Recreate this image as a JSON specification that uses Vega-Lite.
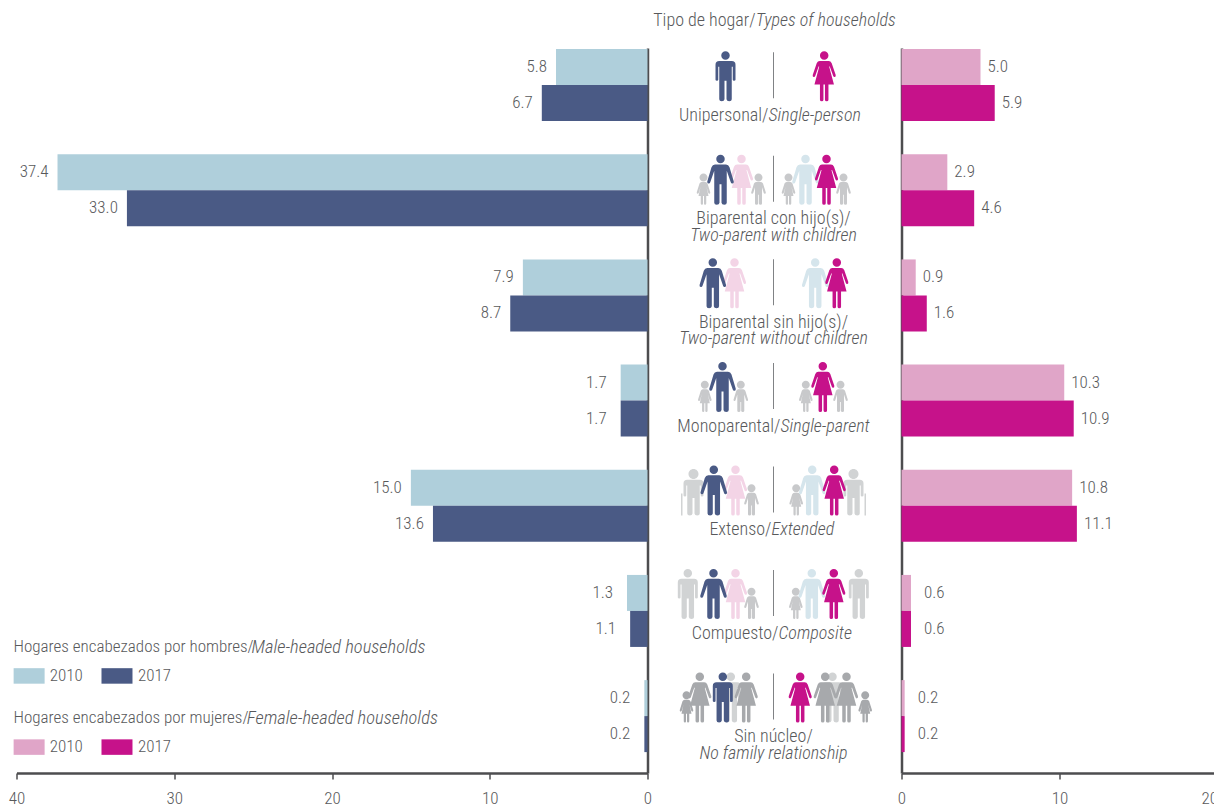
{"$schema":"https://vega.github.io/schema/vega-lite/v6.json","padding":{"left":7.5,"top":12,"right":0,"bottom":0},"background":"white","config":{"view":{"stroke":null},"font":"Roboto Condensed, Roboto","axis":{"labelFont":"Roboto Condensed, Roboto","labelFontSize":17,"labelFontWeight":300,"labelColor":"#58595b","labelFlush":false,"tickColor":"#4d4d4f","domainColor":"#4d4d4f","domainWidth":2.5,"tickWidth":1.5,"tickSize":6,"grid":false,"labelPadding":11},"text":{"font":"Roboto Condensed, Roboto","fontSize":18,"fontWeight":300,"color":"#58595b"}},
"datasets":{
"male":[
{"cat":"Unipersonal","year":"2010","series":"H2010","value":5.8},{"cat":"Unipersonal","year":"2017","series":"H2017","value":6.7},
{"cat":"Biparental con hijo(s)","year":"2010","series":"H2010","value":37.4},{"cat":"Biparental con hijo(s)","year":"2017","series":"H2017","value":33.0},
{"cat":"Biparental sin hijo(s)","year":"2010","series":"H2010","value":7.9},{"cat":"Biparental sin hijo(s)","year":"2017","series":"H2017","value":8.7},
{"cat":"Monoparental","year":"2010","series":"H2010","value":1.7},{"cat":"Monoparental","year":"2017","series":"H2017","value":1.7},
{"cat":"Extenso","year":"2010","series":"H2010","value":15.0},{"cat":"Extenso","year":"2017","series":"H2017","value":13.6},
{"cat":"Compuesto","year":"2010","series":"H2010","value":1.3},{"cat":"Compuesto","year":"2017","series":"H2017","value":1.1},
{"cat":"Sin núcleo","year":"2010","series":"H2010","value":0.2},{"cat":"Sin núcleo","year":"2017","series":"H2017","value":0.2}],
"female":[
{"cat":"Unipersonal","year":"2010","series":"M2010","value":5.0},{"cat":"Unipersonal","year":"2017","series":"M2017","value":5.9},
{"cat":"Biparental con hijo(s)","year":"2010","series":"M2010","value":2.9},{"cat":"Biparental con hijo(s)","year":"2017","series":"M2017","value":4.6},
{"cat":"Biparental sin hijo(s)","year":"2010","series":"M2010","value":0.9},{"cat":"Biparental sin hijo(s)","year":"2017","series":"M2017","value":1.6},
{"cat":"Monoparental","year":"2010","series":"M2010","value":10.3},{"cat":"Monoparental","year":"2017","series":"M2017","value":10.9},
{"cat":"Extenso","year":"2010","series":"M2010","value":10.8},{"cat":"Extenso","year":"2017","series":"M2017","value":11.1},
{"cat":"Compuesto","year":"2010","series":"M2010","value":0.6},{"cat":"Compuesto","year":"2017","series":"M2017","value":0.6},
{"cat":"Sin núcleo","year":"2010","series":"M2010","value":0.2},{"cat":"Sin núcleo","year":"2017","series":"M2017","value":0.2}],
"icons":[
{"cat":"Unipersonal","kind":"divider","tone":"rule","place":0},{"cat":"Unipersonal","kind":"manS","tone":"navy","place":-48},{"cat":"Unipersonal","kind":"woman","tone":"magenta","place":50.7},
{"cat":"Biparental con hijo(s)","kind":"divider","tone":"rule","place":0},{"cat":"Biparental con hijo(s)","kind":"childG","tone":"gray","place":-70},{"cat":"Biparental con hijo(s)","kind":"woman","tone":"palepink","place":-32},{"cat":"Biparental con hijo(s)","kind":"manW","tone":"navy","place":-53},{"cat":"Biparental con hijo(s)","kind":"childB","tone":"gray","place":-15},{"cat":"Biparental con hijo(s)","kind":"childG","tone":"gray","place":15},{"cat":"Biparental con hijo(s)","kind":"manW","tone":"paleblue","place":32},{"cat":"Biparental con hijo(s)","kind":"woman","tone":"magenta","place":53},{"cat":"Biparental con hijo(s)","kind":"childB","tone":"gray","place":70},
{"cat":"Biparental sin hijo(s)","kind":"divider","tone":"rule","place":0},{"cat":"Biparental sin hijo(s)","kind":"woman","tone":"palepink","place":-39},{"cat":"Biparental sin hijo(s)","kind":"manW","tone":"navy","place":-60.7},{"cat":"Biparental sin hijo(s)","kind":"manW","tone":"paleblue","place":41.7},{"cat":"Biparental sin hijo(s)","kind":"woman","tone":"magenta","place":63.3},
{"cat":"Monoparental","kind":"divider","tone":"rule","place":0},{"cat":"Monoparental","kind":"childG","tone":"gray","place":-68.7},{"cat":"Monoparental","kind":"childB","tone":"gray","place":-32.7},{"cat":"Monoparental","kind":"manW","tone":"navy","place":-51},{"cat":"Monoparental","kind":"childG","tone":"gray","place":32.3},{"cat":"Monoparental","kind":"childB","tone":"gray","place":67},{"cat":"Monoparental","kind":"woman","tone":"magenta","place":49.3},
{"cat":"Extenso","kind":"divider","tone":"rule","place":0},{"cat":"Extenso","kind":"elderL","tone":"lightgray","place":-80},{"cat":"Extenso","kind":"woman","tone":"palepink","place":-38},{"cat":"Extenso","kind":"manW","tone":"navy","place":-59.7},{"cat":"Extenso","kind":"childB","tone":"gray","place":-22},{"cat":"Extenso","kind":"childG","tone":"gray","place":22.7},{"cat":"Extenso","kind":"manW","tone":"paleblue","place":38.7},{"cat":"Extenso","kind":"elderR","tone":"lightgray","place":80},{"cat":"Extenso","kind":"woman","tone":"magenta","place":60.7},
{"cat":"Compuesto","kind":"divider","tone":"rule","place":0},{"cat":"Compuesto","kind":"manS","tone":"lightgray","place":-85.7},{"cat":"Compuesto","kind":"woman","tone":"palepink","place":-38},{"cat":"Compuesto","kind":"manW","tone":"navy","place":-60},{"cat":"Compuesto","kind":"childB","tone":"gray","place":-22},{"cat":"Compuesto","kind":"childG","tone":"gray","place":22.3},{"cat":"Compuesto","kind":"manW","tone":"paleblue","place":38.3},{"cat":"Compuesto","kind":"woman","tone":"magenta","place":60.3},{"cat":"Compuesto","kind":"manS","tone":"lightgray","place":85.3},
{"cat":"Sin núcleo","kind":"divider","tone":"rule","place":0},{"cat":"Sin núcleo","kind":"childG","tone":"darkgray","place":-87},{"cat":"Sin núcleo","kind":"woman","tone":"darkgray","place":-73.7},{"cat":"Sin núcleo","kind":"manS","tone":"lightgray","place":-42.7},{"cat":"Sin núcleo","kind":"manS","tone":"navy","place":-50.7},{"cat":"Sin núcleo","kind":"woman","tone":"darkgray","place":-27.3},{"cat":"Sin núcleo","kind":"woman","tone":"magenta","place":26.7},{"cat":"Sin núcleo","kind":"manS","tone":"lightgray","place":59},{"cat":"Sin núcleo","kind":"woman","tone":"darkgray","place":51.7},{"cat":"Sin núcleo","kind":"woman","tone":"darkgray","place":73},{"cat":"Sin núcleo","kind":"childG","tone":"darkgray","place":91.7}],
"single":[
{"cat":"Unipersonal","reg":"Unipersonal/","ita":"Single-person","split":-5},
{"cat":"Monoparental","reg":"Monoparental/","ita":"Single-parent","split":7},
{"cat":"Extenso","reg":"Extenso/","ita":"Extended","split":-2},
{"cat":"Compuesto","reg":"Compuesto/","ita":"Composite","split":5}],
"double":[
{"cat":"Biparental con hijo(s)","reg":"Biparental con hijo(s)/","ita":"Two-parent with children"},
{"cat":"Biparental sin hijo(s)","reg":"Biparental sin hijo(s)/","ita":"Two-parent without children"},
{"cat":"Sin núcleo","reg":"Sin núcleo/","ita":"No family relationship"}],
"heading":[{"cat":"Unipersonal","reg":"Tipo de hogar/","ita":"Types of households","split":-17.8}],
"legendA":[{"cat":"Compuesto","reg":"Hogares encabezados por hombres/","ita":"Male-headed households","start":40.19,"split":25.1}],
"legendB":[{"cat":"Sin núcleo","reg":"Hogares encabezados por mujeres/","ita":"Female-headed households","start":40.19,"split":25.4}],
"swatchA":[{"cat":"Compuesto","series":"H2010","year":"2010","swatch":39.2,"text":37.9},{"cat":"Compuesto","series":"H2017","year":"2017","swatch":33.63,"text":32.3}],
"swatchB":[{"cat":"Sin núcleo","series":"M2010","year":"2010","swatch":39.2,"text":37.9},{"cat":"Sin núcleo","series":"M2017","year":"2017","swatch":33.63,"text":32.3}]
},
"spacing":0,"resolve":{"scale":{"color":"independent","x":"independent"}},
"hconcat":[
{"width":631,"height":725,
"encoding":{"y":{"field":"cat","type":"nominal","scale":{"domain":["Unipersonal","Biparental con hijo(s)","Biparental sin hijo(s)","Monoparental","Extenso","Compuesto","Sin núcleo"],"paddingInner":0.3154,"paddingOuter":0.1046,"align":0.05},"axis":{"orient":"right","labels":false,"ticks":false,"title":null}}},
"layer":[
{"data":{"name":"male"},"mark":{"type":"bar"},"encoding":{"x":{"field":"value","type":"quantitative","scale":{"domain":[40,0],"nice":false},"axis":{"values":[40,30,20,10,0],"title":null}},"yOffset":{"field":"year","type":"nominal"},"color":{"field":"series","type":"nominal","scale":{"domain":["H2010","H2017","M2010","M2017"],"range":["#afcfdb","#4a5a85","#e0a5c8","#c6128a"]},"legend":null}}},
{"data":{"name":"male"},"transform":[{"filter":"datum.value>=2"}],"mark":{"type":"text","fontSize":17,"align":"right","dx":-9},"encoding":{"x":{"field":"value","type":"quantitative"},"yOffset":{"field":"year","type":"nominal"},"text":{"field":"value","format":".1f"}}},
{"data":{"name":"male"},"transform":[{"filter":"datum.value<2"}],"mark":{"type":"text","fontSize":17,"align":"right","dx":-14},"encoding":{"x":{"field":"value","type":"quantitative"},"yOffset":{"field":"year","type":"nominal"},"text":{"field":"value","format":".1f"}}},
{"data":{"name":"legendA"},"mark":{"type":"text","fontSize":17,"align":"left","yOffset":36},"encoding":{"x":{"field":"start","type":"quantitative"},"text":{"field":"reg"}}},
{"data":{"name":"legendA"},"mark":{"type":"text","fontSize":18.5,"align":"left","fontStyle":"italic","yOffset":36},"encoding":{"x":{"field":"split","type":"quantitative"},"text":{"field":"ita"}}},
{"data":{"name":"legendB"},"mark":{"type":"text","fontSize":17,"align":"left","yOffset":2},"encoding":{"x":{"field":"start","type":"quantitative"},"text":{"field":"reg"}}},
{"data":{"name":"legendB"},"mark":{"type":"text","fontSize":18.5,"align":"left","fontStyle":"italic","yOffset":2},"encoding":{"x":{"field":"split","type":"quantitative"},"text":{"field":"ita"}}},
{"data":{"name":"swatchA"},"mark":{"type":"point","filled":true,"opacity":1,"size":961,"strokeWidth":0,"shape":"M-1,-0.5L1,-0.5L1,0.5L-1,0.5Z","yOffset":65},"encoding":{"x":{"field":"swatch","type":"quantitative"},"color":{"field":"series","type":"nominal"}}},
{"data":{"name":"swatchB"},"mark":{"type":"point","filled":true,"opacity":1,"size":961,"strokeWidth":0,"shape":"M-1,-0.5L1,-0.5L1,0.5L-1,0.5Z","yOffset":31},"encoding":{"x":{"field":"swatch","type":"quantitative"},"color":{"field":"series","type":"nominal"}}},
{"data":{"name":"swatchA"},"mark":{"type":"text","fontSize":17,"align":"left","yOffset":65},"encoding":{"x":{"field":"text","type":"quantitative"},"text":{"field":"year"}}},
{"data":{"name":"swatchB"},"mark":{"type":"text","fontSize":17,"align":"left","yOffset":31},"encoding":{"x":{"field":"text","type":"quantitative"},"text":{"field":"year"}}}
]},
{"width":225,"height":725,
"encoding":{"y":{"field":"cat","type":"nominal","scale":{"domain":["Unipersonal","Biparental con hijo(s)","Biparental sin hijo(s)","Monoparental","Extenso","Compuesto","Sin núcleo"],"paddingInner":0.3154,"paddingOuter":0.1046,"align":0.05},"axis":null}},
"layer":[
{"data":{"name":"icons"},"mark":{"type":"point","filled":true,"opacity":1,"size":2500,"strokeWidth":0,"yOffset":23},"encoding":{"x":{"field":"place","type":"quantitative","scale":{"domain":[-113,112],"nice":false},"axis":null},"shape":{"field":"kind","type":"nominal","legend":null,"scale":{"domain":["divider","manS","manW","woman","childG","childB","elderL","elderR"],"range":[
"M-0.02,-0.96L0.02,-0.96L0.02,0.88L-0.02,0.88Z",
"M-0.17,-0.83a0.17,0.17 0 1,0 0.34,0a0.17,0.17 0 1,0 -0.34,0ZM-0.25,-0.61L0.25,-0.61Q0.4,-0.61 0.4,-0.46L0.4,0.14Q0.4,0.18 0.34,0.18Q0.29,0.18 0.29,0.14L0.29,-0.38L0.25,-0.38L0.25,0.92Q0.25,1 0.15,1Q0.05,1 0.04,0.92L0.04,0.18L-0.04,0.18L-0.04,0.92Q-0.05,1 -0.15,1Q-0.25,1 -0.25,0.92L-0.25,-0.38L-0.29,-0.38L-0.29,0.14Q-0.29,0.18 -0.34,0.18Q-0.4,0.18 -0.4,0.14L-0.4,-0.46Q-0.4,-0.61 -0.25,-0.61Z",
"M-0.17,-0.83a0.17,0.17 0 1,0 0.34,0a0.17,0.17 0 1,0 -0.34,0ZM-0.22,-0.61L0.22,-0.61Q0.32,-0.61 0.36,-0.5L0.53,0.07Q0.54,0.14 0.48,0.15Q0.43,0.16 0.41,0.1L0.25,-0.36L0.25,0.92Q0.25,1 0.15,1Q0.05,1 0.04,0.92L0.04,0.18L-0.04,0.18L-0.04,0.92Q-0.05,1 -0.15,1Q-0.25,1 -0.25,0.92L-0.25,-0.36L-0.41,0.1Q-0.43,0.16 -0.48,0.15Q-0.54,0.14 -0.53,0.07L-0.36,-0.5Q-0.32,-0.61 -0.22,-0.61Z",
"M-0.17,-0.83a0.17,0.17 0 1,0 0.34,0a0.17,0.17 0 1,0 -0.34,0ZM-0.18,-0.61L0.18,-0.61Q0.26,-0.61 0.3,-0.52L0.46,-0.05Q0.47,0.02 0.42,0.03Q0.38,0.04 0.36,-0.01L0.22,-0.4L0.2,-0.38L0.39,0.33L0.17,0.33L0.17,0.94Q0.17,1 0.1,1Q0.03,1 0.03,0.94L0.03,0.33L-0.03,0.33L-0.03,0.94Q-0.03,1 -0.1,1Q-0.17,1 -0.17,0.94L-0.17,0.33L-0.39,0.33L-0.2,-0.38L-0.22,-0.4L-0.36,-0.01Q-0.38,0.04 -0.42,0.03Q-0.47,0.02 -0.46,-0.05L-0.3,-0.52Q-0.26,-0.61 -0.18,-0.61Z",
"M-0.16,-0.09a0.16,0.16 0 1,0 0.32,0a0.16,0.16 0 1,0 -0.32,0ZM-0.08,0.09L0.08,0.09Q0.13,0.09 0.16,0.15L0.27,0.5Q0.28,0.55 0.24,0.56Q0.21,0.57 0.19,0.53L0.12,0.28L0.2,0.65L0.11,0.65L0.11,0.95Q0.11,1 0.06,1Q0.02,1 0.02,0.95L0.02,0.65L-0.02,0.65L-0.02,0.95Q-0.02,1 -0.06,1Q-0.11,1 -0.11,0.95L-0.11,0.65L-0.2,0.65L-0.12,0.28L-0.19,0.53Q-0.21,0.57 -0.24,0.56Q-0.28,0.55 -0.27,0.5L-0.16,0.15Q-0.13,0.09 -0.08,0.09Z",
"M-0.16,-0.09a0.16,0.16 0 1,0 0.32,0a0.16,0.16 0 1,0 -0.32,0ZM-0.1,0.09L0.1,0.09Q0.15,0.09 0.18,0.15L0.29,0.5Q0.3,0.55 0.26,0.56Q0.23,0.57 0.21,0.53L0.14,0.3L0.14,0.95Q0.14,1 0.08,1Q0.02,1 0.015,0.95L0.015,0.6L-0.015,0.6L-0.015,0.95Q-0.02,1 -0.08,1Q-0.14,1 -0.14,0.95L-0.14,0.3L-0.21,0.53Q-0.23,0.57 -0.26,0.56Q-0.3,0.55 -0.29,0.5L-0.18,0.15Q-0.15,0.09 -0.1,0.09Z",
"M-0.2,-0.66a0.2,0.2 0 1,0 0.4,0a0.2,0.2 0 1,0 -0.4,0ZM-0.25,-0.43L0.25,-0.43Q0.4,-0.43 0.4,-0.28L0.4,0.2Q0.4,0.24 0.34,0.24Q0.29,0.24 0.29,0.2L0.29,-0.2L0.25,-0.2L0.25,0.92Q0.25,1 0.15,1Q0.05,1 0.04,0.92L0.04,0.3L-0.04,0.3L-0.04,0.92Q-0.05,1 -0.15,1Q-0.25,1 -0.25,0.92L-0.25,-0.2L-0.29,-0.2L-0.29,0.2Q-0.29,0.24 -0.34,0.24Q-0.4,0.24 -0.4,0.2L-0.4,-0.28Q-0.4,-0.43 -0.25,-0.43ZM-0.5,0.12L-0.44,0.12L-0.44,1L-0.5,1Z",
"M-0.2,-0.66a0.2,0.2 0 1,0 0.4,0a0.2,0.2 0 1,0 -0.4,0ZM-0.25,-0.43L0.25,-0.43Q0.4,-0.43 0.4,-0.28L0.4,0.2Q0.4,0.24 0.34,0.24Q0.29,0.24 0.29,0.2L0.29,-0.2L0.25,-0.2L0.25,0.92Q0.25,1 0.15,1Q0.05,1 0.04,0.92L0.04,0.3L-0.04,0.3L-0.04,0.92Q-0.05,1 -0.15,1Q-0.25,1 -0.25,0.92L-0.25,-0.2L-0.29,-0.2L-0.29,0.2Q-0.29,0.24 -0.34,0.24Q-0.4,0.24 -0.4,0.2L-0.4,-0.28Q-0.4,-0.43 -0.25,-0.43ZM0.44,0.12L0.5,0.12L0.5,1L0.44,1Z"
]}},"color":{"field":"tone","type":"nominal","legend":null,"scale":{"domain":["rule","navy","magenta","paleblue","palepink","gray","lightgray","darkgray"],"range":["#808285","#4a5a85","#c6128a","#d5e5ec","#f3d4e6","#c8c9cb","#d1d3d4","#a7a9ac"]}}}},
{"data":{"name":"single"},"mark":{"type":"text","align":"right","yOffset":63},"encoding":{"x":{"field":"split","type":"quantitative"},"text":{"field":"reg"}}},
{"data":{"name":"single"},"mark":{"type":"text","align":"left","fontStyle":"italic","yOffset":63},"encoding":{"x":{"field":"split","type":"quantitative"},"text":{"field":"ita"}}},
{"data":{"name":"double"},"mark":{"type":"text","align":"center","yOffset":62.5},"encoding":{"x":{"datum":0,"type":"quantitative"},"text":{"field":"reg"}}},
{"data":{"name":"double"},"mark":{"type":"text","align":"center","fontStyle":"italic","yOffset":79},"encoding":{"x":{"datum":0,"type":"quantitative"},"text":{"field":"ita"}}},
{"data":{"name":"heading"},"mark":{"type":"text","align":"right","yOffset":-32},"encoding":{"x":{"field":"split","type":"quantitative"},"text":{"field":"reg"}}},
{"data":{"name":"heading"},"mark":{"type":"text","align":"left","fontStyle":"italic","yOffset":-32},"encoding":{"x":{"field":"split","type":"quantitative"},"text":{"field":"ita"}}}
]},
{"width":316,"height":725,
"encoding":{"y":{"field":"cat","type":"nominal","scale":{"domain":["Unipersonal","Biparental con hijo(s)","Biparental sin hijo(s)","Monoparental","Extenso","Compuesto","Sin núcleo"],"paddingInner":0.3154,"paddingOuter":0.1046,"align":0.05},"axis":{"orient":"left","labels":false,"ticks":false,"title":null}}},
"layer":[
{"data":{"name":"female"},"mark":{"type":"bar"},"encoding":{"x":{"field":"value","type":"quantitative","scale":{"domain":[0,20],"nice":false},"axis":{"values":[0,10,20],"title":null,"labelAlign":{"condition":{"test":"datum.value===20","value":"right"},"value":"center"}}},"yOffset":{"field":"year","type":"nominal"},"color":{"field":"series","type":"nominal","scale":{"domain":["H2010","H2017","M2010","M2017"],"range":["#afcfdb","#4a5a85","#e0a5c8","#c6128a"]},"legend":null}}},
{"data":{"name":"female"},"transform":[{"filter":"datum.value>=0.7"}],"mark":{"type":"text","fontSize":17,"align":"left","dx":7},"encoding":{"x":{"field":"value","type":"quantitative"},"yOffset":{"field":"year","type":"nominal"},"text":{"field":"value","format":".1f"}}},
{"data":{"name":"female"},"transform":[{"filter":"datum.value<0.7"}],"mark":{"type":"text","fontSize":17,"align":"left","dx":13},"encoding":{"x":{"field":"value","type":"quantitative"},"yOffset":{"field":"year","type":"nominal"},"text":{"field":"value","format":".1f"}}}
]}
]}
